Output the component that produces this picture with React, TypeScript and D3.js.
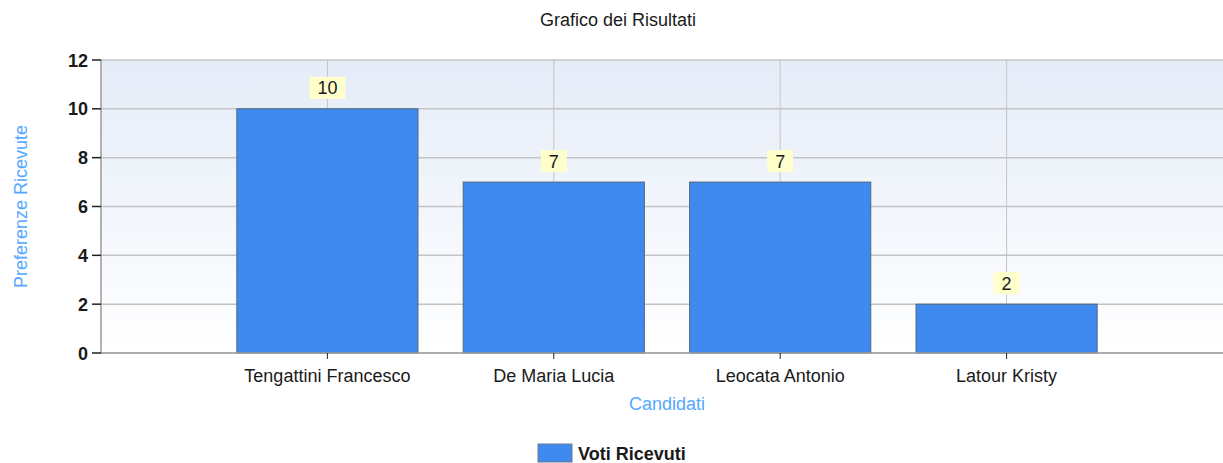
import * as d3 from 'd3';

const candidates = ['Tengattini Francesco', 'De Maria Lucia', 'Leocata Antonio', 'Latour Kristy'];
const votes = [10, 7, 7, 2];
const yTicks = [0, 2, 4, 6, 8, 10, 12];

const W = 1223;
const H = 463;
const plot = { left: 101, top: 60, bottom: 353, right: 1233 };

export default function App() {
  const x = d3.scaleLinear().domain([0, candidates.length + 1]).range([plot.left, plot.right]);
  const y = d3.scaleLinear().domain([0, 12]).range([plot.bottom, plot.top]);
  const step = x(1) - x(0);
  const barW = step * 0.8;

  return (
    <div style={{ position: 'absolute', left: 0, top: 0 }}>
      <svg width={W} height={H} style={{ display: 'block', fontFamily: 'Liberation Sans, Arial, sans-serif' }}>
        <defs>
          <linearGradient id="bg" x1="0" y1="0" x2="0" y2="1">
            <stop offset="0%" stopColor="#e5ecf8" />
            <stop offset="100%" stopColor="#ffffff" />
          </linearGradient>
        </defs>
        <rect width={W} height={H} fill="#fff" />
        <text x={618} y={26} textAnchor="middle" fontSize={18} fill="#1a1a1a">
          Grafico dei Risultati
        </text>

        <rect x={plot.left} y={plot.top} width={plot.right - plot.left} height={plot.bottom - plot.top} fill="url(#bg)" />

        {/* gridlines */}
        {yTicks.map((t) => (
          <line key={'g' + t} x1={plot.left} x2={plot.right} y1={y(t)} y2={y(t)} stroke="#c4c4c4" strokeWidth={1.5} />
        ))}
        {candidates.map((c, i) => (
          <line key={'v' + c} x1={x(i + 1)} x2={x(i + 1)} y1={plot.top} y2={plot.bottom} stroke="#c4c4c4" strokeWidth={1} />
        ))}

        {/* bars */}
        {candidates.map((c, i) => (
          <rect
            key={'b' + c}
            x={x(i + 1) - barW / 2}
            y={y(votes[i])}
            width={barW}
            height={y(0) - y(votes[i])}
            fill="#3f8aee"
            stroke="#4f6480"
            strokeWidth={1}
          />
        ))}

        {/* value labels */}
        {candidates.map((c, i) => {
          const label = String(votes[i]);
          const bw = label.length > 1 ? 36 : 26;
          const cy = y(votes[i]) - 21;
          return (
            <g key={'l' + c}>
              <rect x={x(i + 1) - bw / 2} y={cy - 11} width={bw} height={22} fill="#ffffcc" />
              <text x={x(i + 1)} y={cy + 6.5} textAnchor="middle" fontSize={18} fill="#1a1a1a">
                {label}
              </text>
            </g>
          );
        })}

        {/* axes */}
        <line x1={plot.left} x2={plot.left} y1={plot.top} y2={plot.bottom + 1} stroke="#9a9a9a" strokeWidth={1.5} />
        <line x1={plot.left} x2={plot.right} y1={plot.bottom} y2={plot.bottom} stroke="#a0a0a0" strokeWidth={1.5} />
        {yTicks.map((t) => (
          <g key={'t' + t}>
            <line x1={plot.left - 9} x2={plot.left} y1={y(t)} y2={y(t)} stroke="#222" strokeWidth={1.5} />
            <text x={plot.left - 13} y={y(t) + 6.5} textAnchor="end" fontSize={18} fontWeight="bold" fill="#1a1a1a">
              {t}
            </text>
          </g>
        ))}
        {candidates.map((c, i) => (
          <g key={'x' + c}>
            <line x1={x(i + 1)} x2={x(i + 1)} y1={plot.bottom} y2={plot.bottom + 6} stroke="#222" strokeWidth={1} />
            <text x={x(i + 1)} y={382} textAnchor="middle" fontSize={18} fill="#1a1a1a">
              {c}
            </text>
          </g>
        ))}

        <text x={(plot.left + plot.right) / 2} y={410} textAnchor="middle" fontSize={18} fill="#55a8ff">
          Candidati
        </text>
        <text
          transform={`translate(27, ${(plot.top + plot.bottom) / 2}) rotate(-90)`}
          textAnchor="middle"
          fontSize={18}
          fill="#55a8ff"
        >
          Preferenze Ricevute
        </text>

        {/* legend */}
        <rect x={538} y={444} width={34} height={18} fill="#3f8aee" stroke="#6a7a90" strokeWidth={1} />
        <text x={578} y={460} fontSize={18} fontWeight="bold" fill="#1a1a1a">
          Voti Ricevuti
        </text>
      </svg>
    </div>
  );
}
